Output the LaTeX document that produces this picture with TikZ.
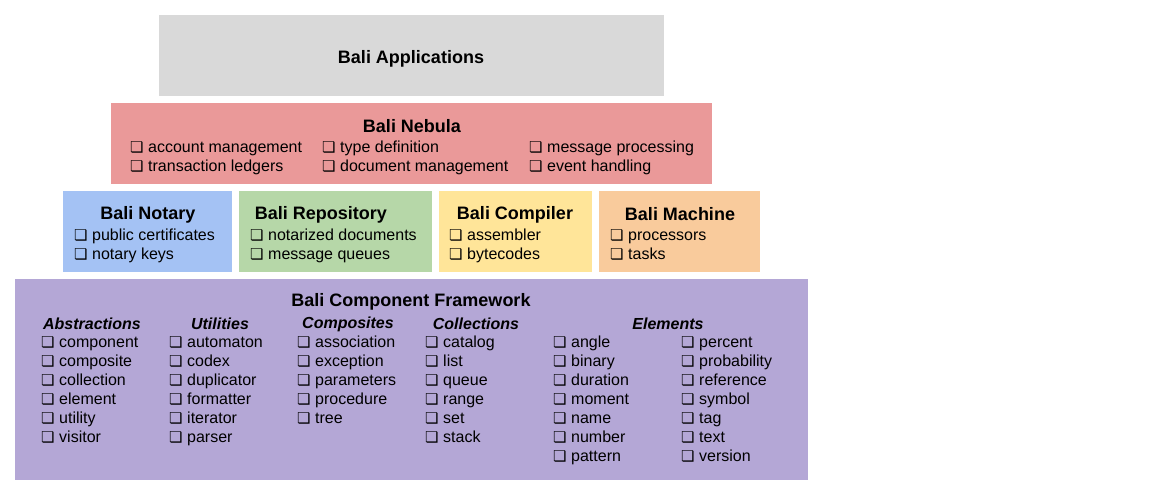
\documentclass[tikz,border=0pt]{standalone}
\usepackage{fontspec}
\setmainfont{Liberation Sans}
\newfontfamily\symfont{DejaVu Sans}
\definecolor{appcol}{HTML}{D9D9D9}
\definecolor{nebcol}{HTML}{EA9999}
\definecolor{notcol}{HTML}{A4C2F4}
\definecolor{repcol}{HTML}{B6D7A8}
\definecolor{comcol}{HTML}{FFE599}
\definecolor{maccol}{HTML}{F9CB9C}
\definecolor{frmcol}{HTML}{B4A7D6}
\newcommand\bul{\makebox[18pt][l]{{\symfont\fontsize{15}{15}\selectfont ❏}}}
\tikzset{
  layerbox/.style={draw=none, inner sep=0, anchor=north west},
  boxtitle/.style={font=\bfseries\fontsize{18}{21}\selectfont, inner sep=0, yshift=-1.5pt},
  item/.style={anchor=west, inner sep=0, font=\fontsize{16}{19}\selectfont, text height=11.5pt, text depth=3.5pt, yshift=-1.2pt},
  colhead/.style={font=\bfseries\itshape\fontsize{16}{19}\selectfont, inner sep=0, yshift=-1pt},
}
\begin{document}
\begin{tikzpicture}[x=1pt, y=-1pt]
\useasboundingbox (0,0) rectangle (1151,498);
% boxes
\node[layerbox, fill=appcol, minimum width=505, minimum height=81] (app) at (159,15) {};
\node[layerbox, fill=nebcol, minimum width=601, minimum height=81] (neb) at (111,103) {};
\node[layerbox, fill=notcol, minimum width=169, minimum height=81] (not) at (63,191) {};
\node[layerbox, fill=repcol, minimum width=193, minimum height=81] (rep) at (239,191) {};
\node[layerbox, fill=comcol, minimum width=153, minimum height=81] (com) at (439,191) {};
\node[layerbox, fill=maccol, minimum width=161, minimum height=81] (mac) at (599,191) {};
\node[layerbox, fill=frmcol, minimum width=793, minimum height=201] (frm) at (15,279) {};
% titles
\node[boxtitle] (appt) at (411,57) {Bali Applications};
\node[boxtitle] (nebt) at (412,125) {Bali Nebula};
\node[boxtitle] (nott) at (148,213) {Bali Notary};
\node[boxtitle] (rept) at (321,213) {Bali Repository};
\node[boxtitle] (comt) at (515,213) {Bali Compiler};
\node[boxtitle] (mact) at (680,213) {Bali Machine};
\node[boxtitle] (frmt) at (411,300) {Bali Component Framework};
% nebula items
\node[item] (neb11) at (130,147) {\bul account management};
\node[item] (neb12) at (130,166) {\bul transaction ledgers};
\node[item] (neb21) at (322,147) {\bul type definition};
\node[item] (neb22) at (322,166) {\bul document management};
\node[item] (neb31) at (529,147) {\bul message processing};
\node[item] (neb32) at (529,166) {\bul event handling};
% middle layer items
\node[item] (not1) at (74,235) {\bul public certificates};
\node[item] (not2) at (74,254) {\bul notary keys};
\node[item] (rep1) at (250,235) {\bul notarized documents};
\node[item] (rep2) at (250,254) {\bul message queues};
\node[item] (com1) at (449,235) {\bul assembler};
\node[item] (com2) at (449,254) {\bul bytecodes};
\node[item] (mac1) at (610,235) {\bul processors};
\node[item] (mac2) at (610,254) {\bul tasks};
% framework headers
\node[colhead] (habs) at (92,323) {Abstractions};
\node[colhead] (huti) at (220,323) {Utilities};
\node[colhead] (hcmp) at (348,323) {Composites};
\node[colhead] (hcol) at (476,323) {Collections};
\node[colhead] (hele) at (668,323) {Elements};
% framework items
\foreach [count=\i] \t in {component,composite,collection,element,utility,visitor}
  \node[item] (abs\i) at (41,{323+19*\i}) {\bul\t};
\foreach [count=\i] \t in {automaton,codex,duplicator,formatter,iterator,parser}
  \node[item] (uti\i) at (169,{323+19*\i}) {\bul\t};
\foreach [count=\i] \t in {association,exception,parameters,procedure,tree}
  \node[item] (cmp\i) at (297,{323+19*\i}) {\bul\t};
\foreach [count=\i] \t in {catalog,list,queue,range,set,stack}
  \node[item] (col\i) at (425,{323+19*\i}) {\bul\t};
\foreach [count=\i] \t in {angle,binary,duration,moment,name,number,pattern}
  \node[item] (elea\i) at (553,{323+19*\i}) {\bul\t};
\foreach [count=\i] \t in {percent,probability,reference,symbol,tag,text,version}
  \node[item] (eleb\i) at (681,{323+19*\i}) {\bul\t};
\end{tikzpicture}
\end{document}
